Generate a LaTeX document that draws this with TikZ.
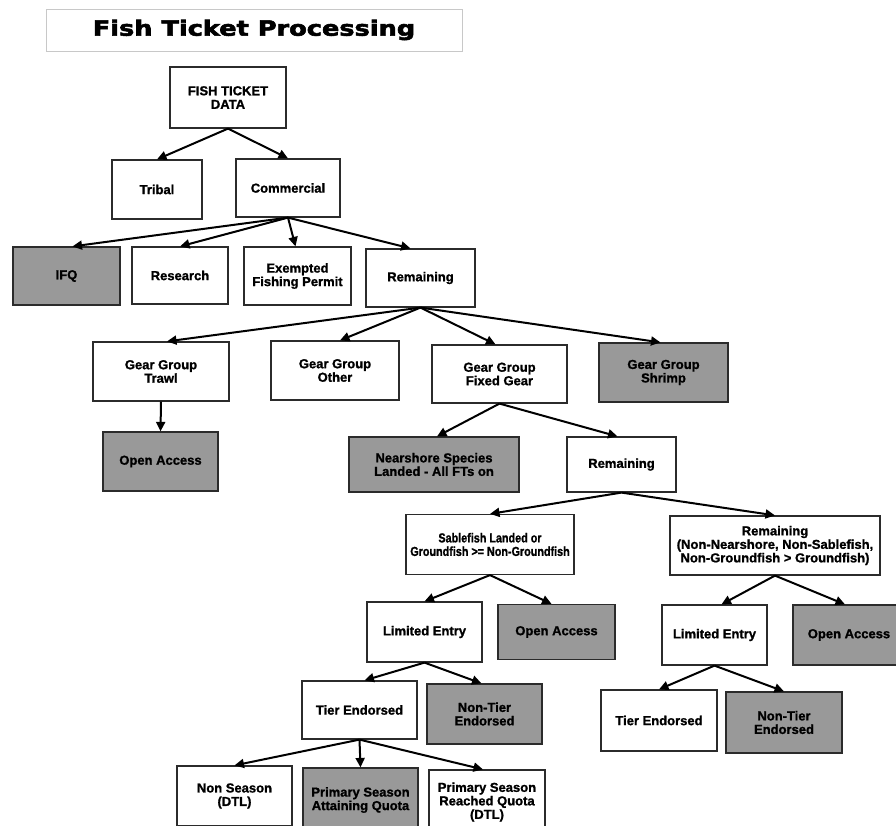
\documentclass[tikz,border=0pt]{standalone}
\usepackage{fontspec}
\setmainfont{Liberation Sans}[BoldFeatures={FakeBold=1.2}]
\newfontfamily\titlefont{DejaVu Sans}[BoldFeatures={FakeBold=2.5}]
\usepackage{xcolor}
\usepackage{tikz}
\usetikzlibrary{arrows.meta}
\definecolor{edge}{HTML}{2B2B2B}
\definecolor{fillgray}{HTML}{999999}
\definecolor{frame}{HTML}{C8C8C8}
\tikzset{
  box/.style={draw=edge, line width=1.2pt, fill=white, align=center, inner sep=0pt,
    font=\fontsize{13}{13.5}\selectfont\bfseries},
  dark/.style={box, fill=fillgray},
  heading/.style={draw=frame, line width=0.8pt, fill=white, inner sep=0pt,
    font=\titlefont\fontsize{21}{24}\selectfont\bfseries},
  link/.style={draw=black, line width=2pt, -{Triangle[length=9.5pt,width=9pt]}},
}
\newcommand{\squeeze}[1]{\scalebox{0.83}[1]{#1}}

\begin{document}
\begin{tikzpicture}[x=1pt, y=-1pt]
  \useasboundingbox[fill=white] (0,0) rectangle (896,826);

  \node[heading, minimum width=416pt, minimum height=42pt] (title) at (254,30)
    {\scalebox{1.22}[1]{Fish Ticket Processing}};

  % top levels
  \node[box, minimum width=116pt, minimum height=61pt] (data) at (228,97.5) {FISH TICKET\\DATA};
  \node[box, minimum width=90pt, minimum height=59pt] (tribal) at (157,189.5) {Tribal};
  \node[box, minimum width=104pt, minimum height=58pt] (comm) at (288,188) {Commercial};

  \node[dark, minimum width=107pt, minimum height=58pt] (ifq) at (66.5,276) {IFQ};
  \node[box, minimum width=96pt, minimum height=57pt] (research) at (180,275.5) {Research};
  \node[box, minimum width=107pt, minimum height=58pt] (efp) at (297.5,276) {Exempted\\Fishing Permit};
  \node[box, minimum width=109pt, minimum height=58pt] (remA) at (420.5,278) {Remaining};

  % gear groups
  \node[box, minimum width=136pt, minimum height=59pt] (trawl) at (161,371.5) {Gear Group\\Trawl};
  \node[box, minimum width=128pt, minimum height=59pt] (other) at (335,370.5) {Gear Group\\Other};
  \node[box, minimum width=135pt, minimum height=58pt] (fixed) at (499.5,374) {Gear Group\\Fixed Gear};
  \node[dark, minimum width=129pt, minimum height=59pt] (shrimp) at (663.5,372.5) {Gear Group\\Shrimp};

  \node[dark, minimum width=115pt, minimum height=59pt] (oaTrawl) at (160.5,461.5) {Open Access};
  \node[dark, minimum width=170pt, minimum height=55pt] (near) at (434,464.5) {Nearshore Species\\Landed - All FTs on};
  \node[box, minimum width=109pt, minimum height=55pt] (remB) at (621.5,464.5) {Remaining};

  % fixed gear split
  \node[box, minimum width=168pt, minimum height=60pt] (sable) at (490,544.5)
    {\squeeze{Sablefish Landed or}\\\squeeze{Groundfish >= Non-Groundfish}};
  \node[box, minimum width=210pt, minimum height=59pt] (remC) at (775,545.5)
    {Remaining\\(Non-Nearshore, Non-Sablefish,\\Non-Groundfish > Groundfish)};

  \node[box, minimum width=115pt, minimum height=60pt] (leA) at (424.5,632) {Limited Entry};
  \node[dark, minimum width=117pt, minimum height=55pt] (oaA) at (556.5,632) {Open Access};
  \node[box, minimum width=105pt, minimum height=60pt] (leB) at (714.5,635) {Limited Entry};
  \node[dark, minimum width=112pt, minimum height=60pt] (oaB) at (849,635) {Open Access};

  \node[box, minimum width=115pt, minimum height=58pt] (tierA) at (359.5,710) {Tier Endorsed};
  \node[dark, minimum width=115pt, minimum height=60pt] (ntierA) at (484.5,714) {Non-Tier\\Endorsed};
  \node[box, minimum width=116pt, minimum height=61pt] (tierB) at (659,720.5) {Tier Endorsed};
  \node[dark, minimum width=116pt, minimum height=61pt] (ntierB) at (784,722.5) {Non-Tier\\Endorsed};

  % seasons
  \node[box, minimum width=115pt, minimum height=60pt] (nonseason) at (234.5,796) {Non Season\\(DTL)};
  \node[dark, minimum width=115pt, minimum height=64pt] (attain) at (360.5,800) {Primary Season\\Attaining Quota};
  \node[box, minimum width=116pt, minimum height=64pt] (reached) at (487,802) {Primary Season\\Reached Quota\\(DTL)};

  % connectors
  \draw[link] (data.south) -- (tribal.north);
  \draw[link] (data.south) -- (comm.north);
  \foreach \kid/\dx in {ifq/6, research/0, efp/-2, remA/-10}
    \draw[link] (comm.south) -- ([xshift=\dx pt]\kid.north);
  \foreach \kid/\dx in {trawl/6, other/5, fixed/-4, shrimp/-3}
    \draw[link] (remA.south) -- ([xshift=\dx pt]\kid.north);
  \draw[link] (trawl.south) -- (oaTrawl.north);
  \draw[link] (fixed.south) -- ([xshift=3pt]near.north);
  \draw[link] (fixed.south) -- ([xshift=-4pt]remB.north);
  \draw[link] (remB.south) -- (sable.north);
  \draw[link] (remB.south) -- (remC.north);
  \draw[link] (sable.south) -- (leA.north);
  \draw[link] (sable.south) -- ([xshift=-5pt]oaA.north);
  \draw[link] (remC.south) -- ([xshift=7pt]leB.north);
  \draw[link] (remC.south) -- ([xshift=-4pt]oaB.north);
  \draw[link] (leA.south) -- ([xshift=5pt]tierA.north);
  \draw[link] (leA.south) -- ([xshift=-3pt]ntierA.north);
  \draw[link] (leB.south) -- (tierB.north);
  \draw[link] (leB.south) -- (ntierB.north);
  \draw[link] (tierA.south) -- (nonseason.north);
  \draw[link] (tierA.south) -- (attain.north);
  \draw[link] (tierA.south) -- ([xshift=-4pt]reached.north);
\end{tikzpicture}
\end{document}
